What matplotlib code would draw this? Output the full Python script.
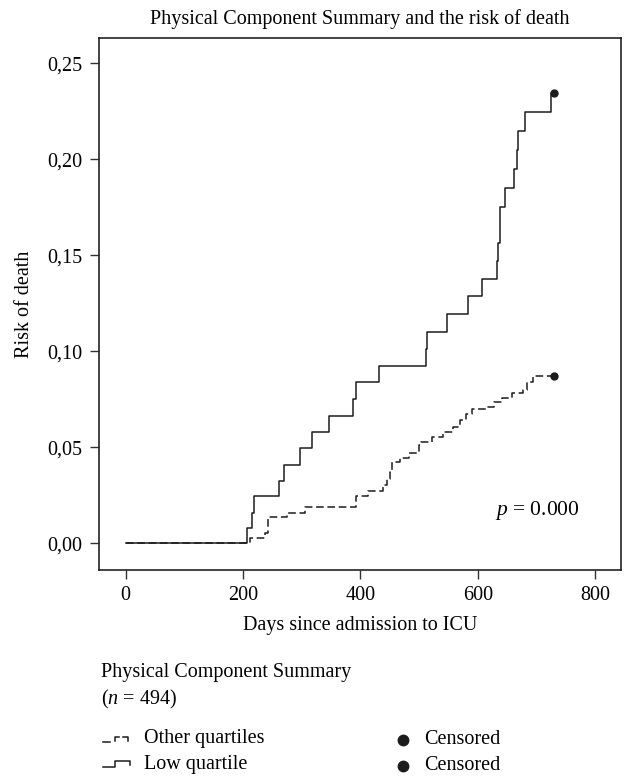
import matplotlib
matplotlib.use("Agg")
import matplotlib.pyplot as plt
from matplotlib.lines import Line2D
from matplotlib.ticker import FuncFormatter

plt.rcParams['font.family'] = ['Liberation Serif', 'DejaVu Serif']
plt.rcParams['mathtext.fontset'] = 'custom'
plt.rcParams['mathtext.rm'] = 'Liberation Serif'
plt.rcParams['mathtext.it'] = 'Liberation Serif:italic'

# ---- data ----
low_days = [0, 206, 215, 219, 261, 270, 297, 318, 347, 388, 392, 432, 511, 513,
            548, 583, 607, 632, 634, 638, 647, 661, 666, 668, 681, 724]
low_risk = [0.0, 0.008, 0.016, 0.0246, 0.0326, 0.041, 0.0495, 0.058, 0.0665,
            0.075, 0.0839, 0.0925, 0.101, 0.110, 0.1194, 0.1286, 0.1378, 0.147,
            0.1566, 0.1753, 0.1852, 0.1948, 0.2048, 0.2147, 0.2245, 0.2347]
low_end_day = 729

other_days = [0, 211, 237, 243, 274, 306, 392, 413, 439, 445, 451, 454, 468, 482,
              499, 503, 522, 541, 557, 570, 580, 590, 615, 627, 642, 658, 677,
              684, 694]
other_risk = [0.0, 0.0026, 0.0055, 0.0135, 0.016, 0.019, 0.0245, 0.0272, 0.0304,
              0.0335, 0.037, 0.0422, 0.0443, 0.0469, 0.0512, 0.0529, 0.0552,
              0.058, 0.0607, 0.0642, 0.0672, 0.0698, 0.0712, 0.0736, 0.0755,
              0.0784, 0.0798, 0.0842, 0.0871]
other_end_day = 729

x_ticks = [0, 200, 400, 600, 800]
y_ticks = [0.00, 0.05, 0.10, 0.15, 0.20, 0.25]

title = "Physical Component Summary and the risk of death"
x_label = "Days since admission to ICU"
y_label = "Risk of death"
p_text = r"$p$ = 0.000"
legend_title = "Physical Component Summary"
legend_n = r"($n$ = 494)"
legend_labels = ["Other quartiles", "Low quartile"]
censor_label = "Censored"

# ---- figure ----
W, H = 624, 777
fig = plt.figure(figsize=(W / 100, H / 100), dpi=100)
ax = fig.add_axes([99.3 / W, 1 - 570 / H, (621 - 99.3) / W, (570 - 38.3) / H])

col = '#1c1c1c'
FS = 14.5
ax.step(low_days + [low_end_day], low_risk + [low_risk[-1]], where='post',
        color=col, lw=1.1)
ax.step(other_days + [other_end_day], other_risk + [other_risk[-1]], where='post',
        color=col, lw=1.1, linestyle=(0, (5, 2.4)))
ax.plot([low_end_day], [low_risk[-1]], 'o', color=col, ms=5)
ax.plot([other_end_day], [other_risk[-1]], 'o', color=col, ms=5)

ax.set_xlim(-45, 844)
ax.set_ylim(-0.0139, 0.263)
ax.set_xticks(x_ticks)
ax.set_yticks(y_ticks)
ax.yaxis.set_major_formatter(FuncFormatter(lambda v, p: f"{v:.2f}".replace('.', ',')))
ax.tick_params(direction='out', length=6.5, width=1.0, labelsize=FS, pad=6,
               color='#333333')
ax.tick_params(axis='x', pad=5)
for s in ax.spines.values():
    s.set_linewidth(1.2)
    s.set_color('#222222')

ax.set_title(title, fontsize=FS, pad=10)
ax.set_xlabel(x_label, fontsize=FS, labelpad=8)
ax.set_ylabel(y_label, fontsize=FS, labelpad=9)
ax.text(629.6, 0.017, p_text, fontsize=15.5, va='center', ha='left')

# ---- legend below (figure pixel coordinates) ----
def fx(x):
    return x / W

def fy(y):
    return 1 - y / H

fig.text(fx(101), fy(672), legend_title, fontsize=FS, va='center', ha='left')
fig.text(fx(101), fy(699), legend_n, fontsize=FS, va='center', ha='left')

# dashed step glyph
for xs, ys in [([103, 110], [741.5, 741.5]),
               ([115, 115, 118.5], [741, 737, 737]),
               ([123, 128, 128], [737, 737, 740.5])]:
    fig.add_artist(Line2D([fx(v) for v in xs], [fy(v) for v in ys],
                          color=col, lw=1.1, transform=fig.transFigure))
# solid step glyph
fig.add_artist(Line2D([fx(v) for v in [103, 115, 115, 129.5, 129.5]],
                      [fy(v) for v in [767, 767, 760.5, 760.5, 764.5]],
                      color=col, lw=1.1, transform=fig.transFigure))

fig.text(fx(144), fy(738), legend_labels[0], fontsize=FS, va='center', ha='left')
fig.text(fx(144), fy(765), legend_labels[1], fontsize=FS, va='center', ha='left')

for yy in [740, 766]:
    fig.add_artist(Line2D([fx(403)], [fy(yy)], marker='o', ms=7.5, color=col,
                          linestyle='none', transform=fig.transFigure))
    fig.text(fx(424), fy(yy - 1), censor_label, fontsize=FS, va='center', ha='left')

fig.savefig("out.png", dpi=100)
